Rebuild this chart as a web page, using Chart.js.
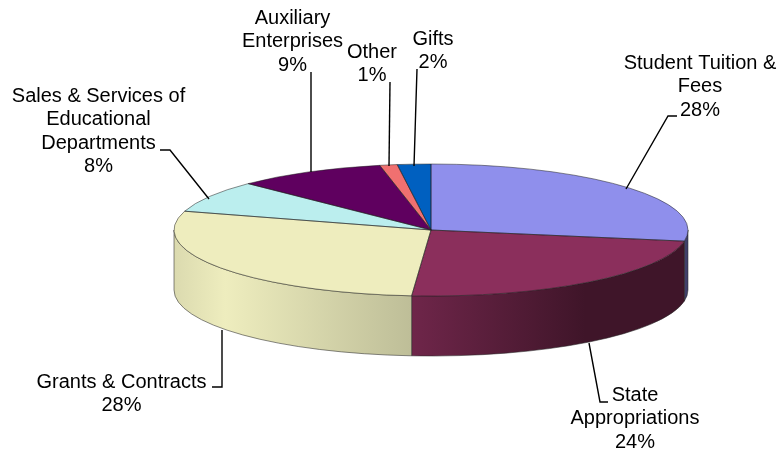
<!DOCTYPE html>
<html>
<head>
<meta charset="utf-8">
<title>Revenue sources</title>
<script src="https://cdn.jsdelivr.net/npm/chart.js@4"></script>
<style>
  html, body { margin: 0; padding: 0; background: #fff; }
  canvas { display: block; filter: blur(0.35px); }
</style>
</head>
<body>
<canvas id="pieChart" width="778" height="452"></canvas>
<script>
const categories = [
    ['Student Tuition &', 'Fees'],
    ['State', 'Appropriations'],
    ['Grants & Contracts'],
    ['Sales & Services of', 'Educational', 'Departments'],
    ['Auxiliary', 'Enterprises'],
    ['Other'],
    ['Gifts']
];
const shares = [27.7, 23.5, 28.4, 7.8, 9.4, 1.1, 2.1];
const colors = ['#8F8FEC', '#8B2F5C', '#EEEDBE', '#BBEEEE', '#5F005F', '#F07070', '#0060C0'];

// label placement: centre x, y of first line, then the leader line
const labelX = [700, 635, 121.5, 98.5, 292.5, 372, 433];
const labelY = [63, 395, 382, 96, 18, 52, 39];
const leaders = [
    [[626, 189], [668, 116], [677, 116]],
    [[589, 343], [600, 402], [608, 402]],
    [[222, 330], [222, 387], [212, 387]],
    [[209, 199], [170, 150], [160, 150]],
    [[311, 172], [311, 72]],
    [[389, 166], [390, 82]],
    [[414, 166], [417, 69]]
];

const RX = 257, RY = 66, DEPTH = 60, LINE_H = 23.5;

// brightness of the side wall across the width of the pie
const wallLight = [[0, 0.92], [0.1, 1], [0.46, 0.8], [0.8, 0.45], [1, 0.45]];

function shade(hex, k) {
    const n = parseInt(hex.slice(1), 16);
    const c = [n >> 16, (n >> 8) & 255, n & 255].map(v => Math.round(v * k));
    return `rgb(${c.join(',')})`;
}

const tiltPlugin = {
    id: 'tilt',
    beforeDatasetsDraw(chart) {
        const ctx = chart.ctx;
        const arcs = chart.getDatasetMeta(0).data;
        const { x, y, outerRadius } = arcs[0];

        arcs.forEach((arc, i) => {
            const a0 = Math.max(arc.startAngle, 0);
            const a1 = Math.min(arc.endAngle, Math.PI);
            if (a1 <= a0) return;
            const grad = ctx.createLinearGradient(x - RX, 0, x + RX, 0);
            wallLight.forEach(([pos, k]) => grad.addColorStop(pos, shade(colors[i], k)));
            ctx.beginPath();
            ctx.ellipse(x, y, RX, RY, 0, a0, a1);
            ctx.ellipse(x, y + DEPTH, RX, RY, 0, a1, a0, true);
            ctx.closePath();
            ctx.fillStyle = grad;
            ctx.fill();
            ctx.strokeStyle = 'rgba(40,40,40,0.55)';
            ctx.lineWidth = 1;
            ctx.stroke();
        });

        // squash the round pie into the tilted top face
        ctx.save();
        ctx.translate(x, y);
        ctx.scale(RX / outerRadius, RY / outerRadius);
        ctx.translate(-x, -y);
    },
    afterDatasetsDraw(chart) {
        const ctx = chart.ctx;
        ctx.restore();
        const arcs = chart.getDatasetMeta(0).data;
        arcs.forEach(arc => {
            ctx.beginPath();
            ctx.moveTo(arc.x, arc.y);
            ctx.ellipse(arc.x, arc.y, RX, RY, 0, arc.startAngle, arc.endAngle);
            ctx.closePath();
            ctx.strokeStyle = 'rgba(30,30,30,0.5)';
            ctx.lineWidth = 1;
            ctx.stroke();
        });
    },
    afterDraw(chart) {
        const ctx = chart.ctx;
        const total = shares.reduce((a, b) => a + b, 0);
        ctx.save();
        ctx.strokeStyle = '#000';
        ctx.lineWidth = 1.4;
        leaders.forEach(pts => {
            ctx.beginPath();
            pts.forEach(([px, py], k) => k ? ctx.lineTo(px, py) : ctx.moveTo(px, py));
            ctx.stroke();
        });
        ctx.fillStyle = '#000';
        ctx.font = '20px "Liberation Sans", Arial, sans-serif';
        ctx.textAlign = 'center';
        ctx.textBaseline = 'middle';
        categories.forEach((lines, i) => {
            const pct = Math.round(shares[i] / total * 100) + '%';
            [...lines, pct].forEach((txt, k) => {
                ctx.fillText(txt, labelX[i], labelY[i] + k * LINE_H);
            });
        });
        ctx.restore();
    }
};

new Chart(document.getElementById('pieChart').getContext('2d'), {
    type: 'pie',
    data: {
        labels: categories.map(c => c.join(' ')),
        datasets: [{
            data: shares,
            backgroundColor: colors,
            borderWidth: 0
        }]
    },
    options: {
        responsive: false,
        animation: false,
        layout: { padding: { left: 231, right: 147, top: 30, bottom: 22 } },
        plugins: {
            legend: { display: false },
            tooltip: { enabled: false }
        }
    },
    plugins: [tiltPlugin]
});
</script>
</body>
</html>
